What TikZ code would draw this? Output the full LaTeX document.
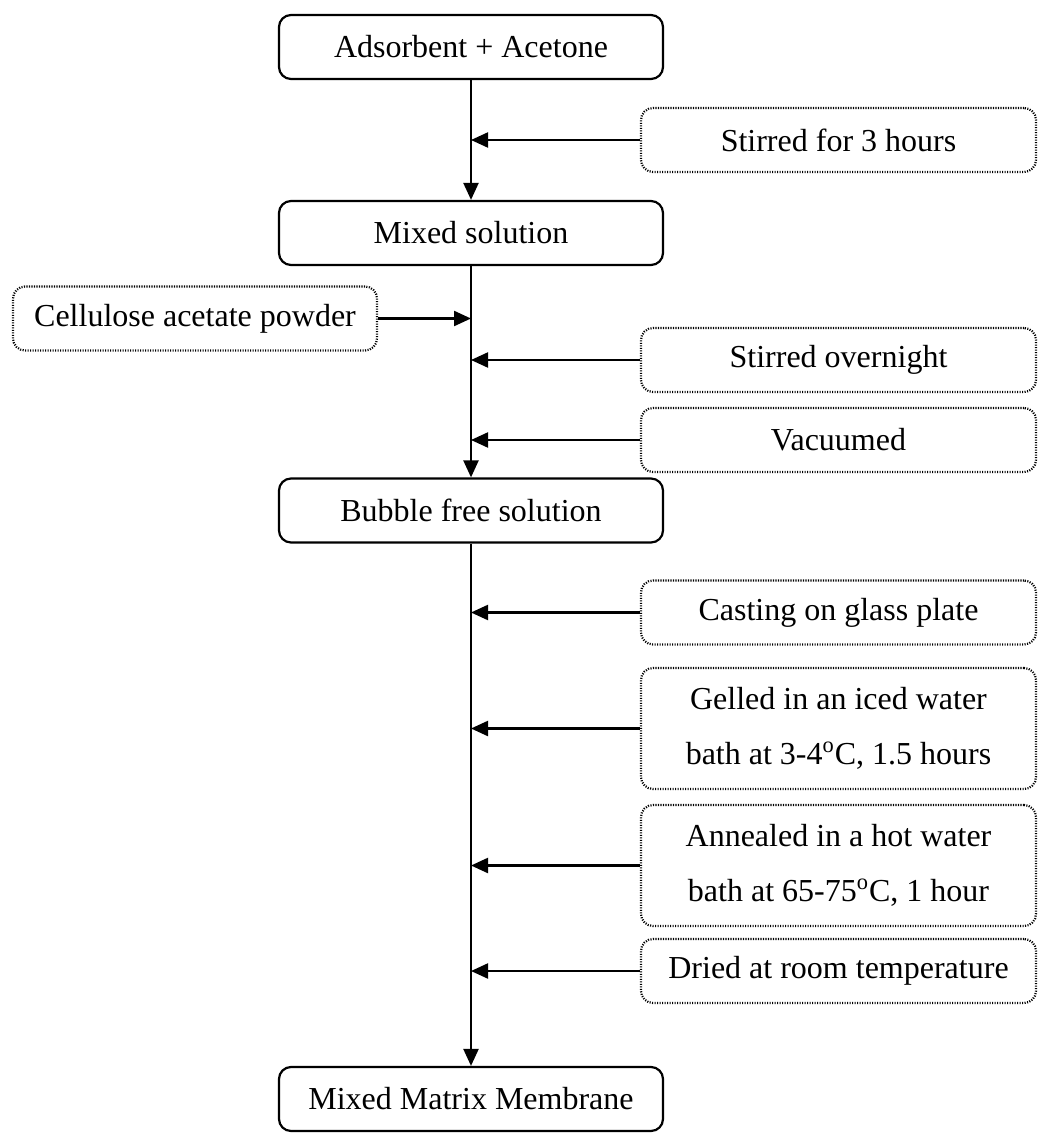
\documentclass[tikz,border=0pt]{standalone}
\usepackage{fontspec}
\setmainfont{Liberation Serif}
\usetikzlibrary{arrows.meta}
\begin{document}
\begin{tikzpicture}[x=0.5pt,y=-0.5pt,
  mainbox/.style={draw, line width=1.1pt, rounded corners=6pt, minimum width=192pt, minimum height=32pt, inner sep=0pt, font=\fontsize{16}{20}\selectfont, align=center},
  sidebox/.style={draw, line width=1.1pt, dash pattern=on 0.55pt off 0.7pt, rounded corners=6pt, minimum width=197.5pt, minimum height=32pt, inner sep=0pt, font=\fontsize{16}{27.5}\selectfont, align=center},
  flow/.style={line width=1.1pt, -{Triangle[length=8.5pt,width=7.5pt]}}
]
\useasboundingbox (0,0) rectangle (1039,1134);
% main boxes
\node[mainbox] (b1) at (471,47) {Adsorbent + Acetone};
\node[mainbox] (b2) at (471,233) {Mixed solution};
\node[mainbox] (b3) at (471,510.5) {Bubble free solution};
\node[mainbox] (b4) at (471,1099) {Mixed Matrix Membrane};
% side boxes
\node[sidebox] (s1) at (838.5,140) {Stirred for 3 hours};
\node[sidebox, minimum width=182pt] (c1) at (195,318.5) {Cellulose acetate powder};
\node[sidebox] (s2) at (838.5,360) {Stirred overnight};
\node[sidebox] (s3) at (838.5,440) {Vacuumed};
\node[sidebox] (s4) at (838.5,612.5) {Casting on glass plate};
\node[sidebox, minimum height=60.5pt] (s5) at (838.5,728.5) {Gelled in an iced water\\bath at 3-4\textsuperscript{o}C, 1.5 hours};
\node[sidebox, minimum height=60.5pt] (s6) at (838.5,865.5) {Annealed in a hot water\\bath at 65-75\textsuperscript{o}C, 1 hour};
\node[sidebox] (s7) at (838.5,971) {Dried at room temperature};
% main flow
\draw[flow] (b1.south) -- (b2.north);
\draw[flow] (b2.south) -- (b3.north);
\draw[flow] (b3.south) -- (b4.north);
% side arrows
\draw[flow] (s1.west) -- (s1.west -| b1.south);
\draw[flow] (c1.east) -- (c1.east -| b2.south);
\draw[flow] (s2.west) -- (s2.west -| b2.south);
\draw[flow] (s3.west) -- (s3.west -| b2.south);
\draw[flow] (s4.west) -- (s4.west -| b3.south);
\draw[flow] (s5.west) -- (s5.west -| b3.south);
\draw[flow] (s6.west) -- (s6.west -| b3.south);
\draw[flow] (s7.west) -- (s7.west -| b3.south);
\end{tikzpicture}
\end{document}
